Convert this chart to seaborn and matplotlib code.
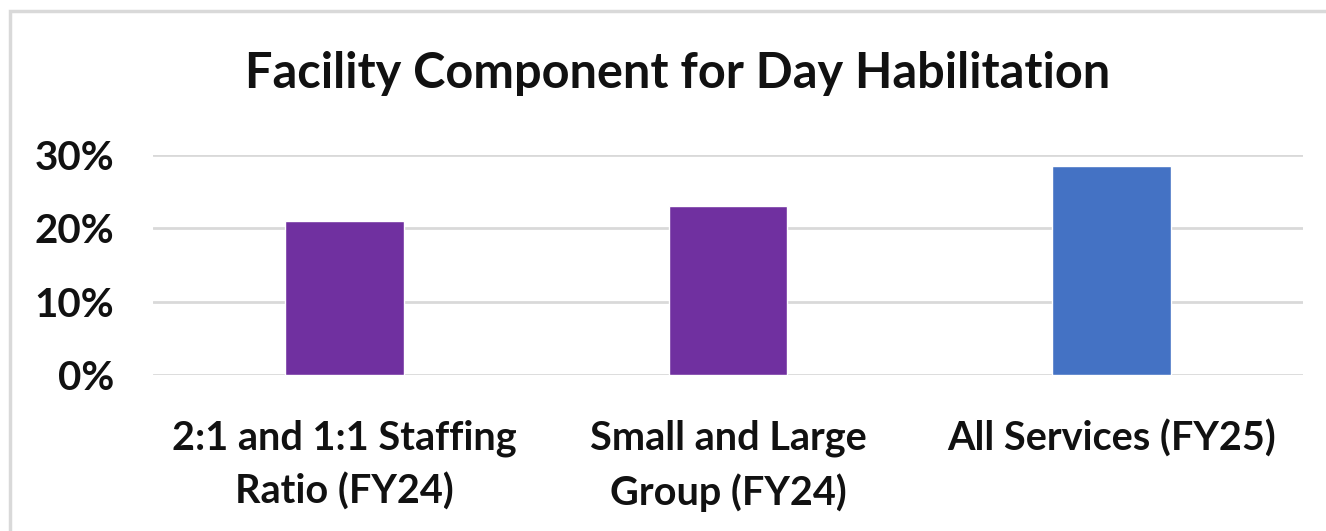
import matplotlib
matplotlib.use("Agg")
import matplotlib.pyplot as plt
import seaborn as sns
import pandas as pd
from matplotlib.patches import Rectangle
from matplotlib.ticker import PercentFormatter

categories = ["2:1 and 1:1 Staffing\nRatio (FY24)", "Small and Large\nGroup (FY24)", "All Services (FY25)"]
values = [0.21, 0.23, 0.284]
bar_colors = ["#7030A0", "#7030A0", "#4472C4"]
y_ticks = [0.0, 0.10, 0.20, 0.30]

sns.set_theme(style="white")
plt.rcParams["font.family"] = ["Lato", "DejaVu Sans"]
plt.rcParams["font.weight"] = "bold"

df = pd.DataFrame({"Category": categories, "Value": values})

fig = plt.figure(figsize=(13.26, 5.31), dpi=100)
ax = fig.add_axes([0.1154, 0.2932, 0.8673, 0.4155])

sns.barplot(data=df, x="Category", y="Value", hue="Category",
            palette=bar_colors, width=0.31, legend=False, ax=ax,
            saturation=1)

ax.set_ylim(0, 0.30)
ax.set_yticks(y_ticks)
ax.yaxis.set_major_formatter(PercentFormatter(1.0, decimals=0))
ax.grid(axis="y", color="#D9D9D9", linewidth=2)
ax.set_axisbelow(True)
sns.despine(ax=ax, left=True, bottom=True)
ax.tick_params(axis="y", length=0, pad=28, labelsize=29)
ax.tick_params(axis="x", length=0, pad=32, labelsize=28.5)
for lbl in ax.get_yticklabels():
    lbl.set_fontweight("bold")
    lbl.set_color("#111111")
for lbl in ax.get_xticklabels():
    lbl.set_fontweight("bold")
    lbl.set_color("#111111")
    lbl.set_linespacing(1.5)
ax.set_xlabel("")
ax.set_ylabel("")

fig.suptitle("Facility Component for Day Habilitation", x=0.511, y=0.8625,
             va="center", fontsize=35, fontweight="bold", color="#111111")

# light gray frame like the source chart area
fig.patches.append(Rectangle((10 / 1326, -0.1), 1.2, 1 - 11 / 531 + 0.1,
                             transform=fig.transFigure, fill=False,
                             edgecolor="#D9D9D9", linewidth=2.5))

fig.savefig("out.png", dpi=100)
plt.close(fig)
